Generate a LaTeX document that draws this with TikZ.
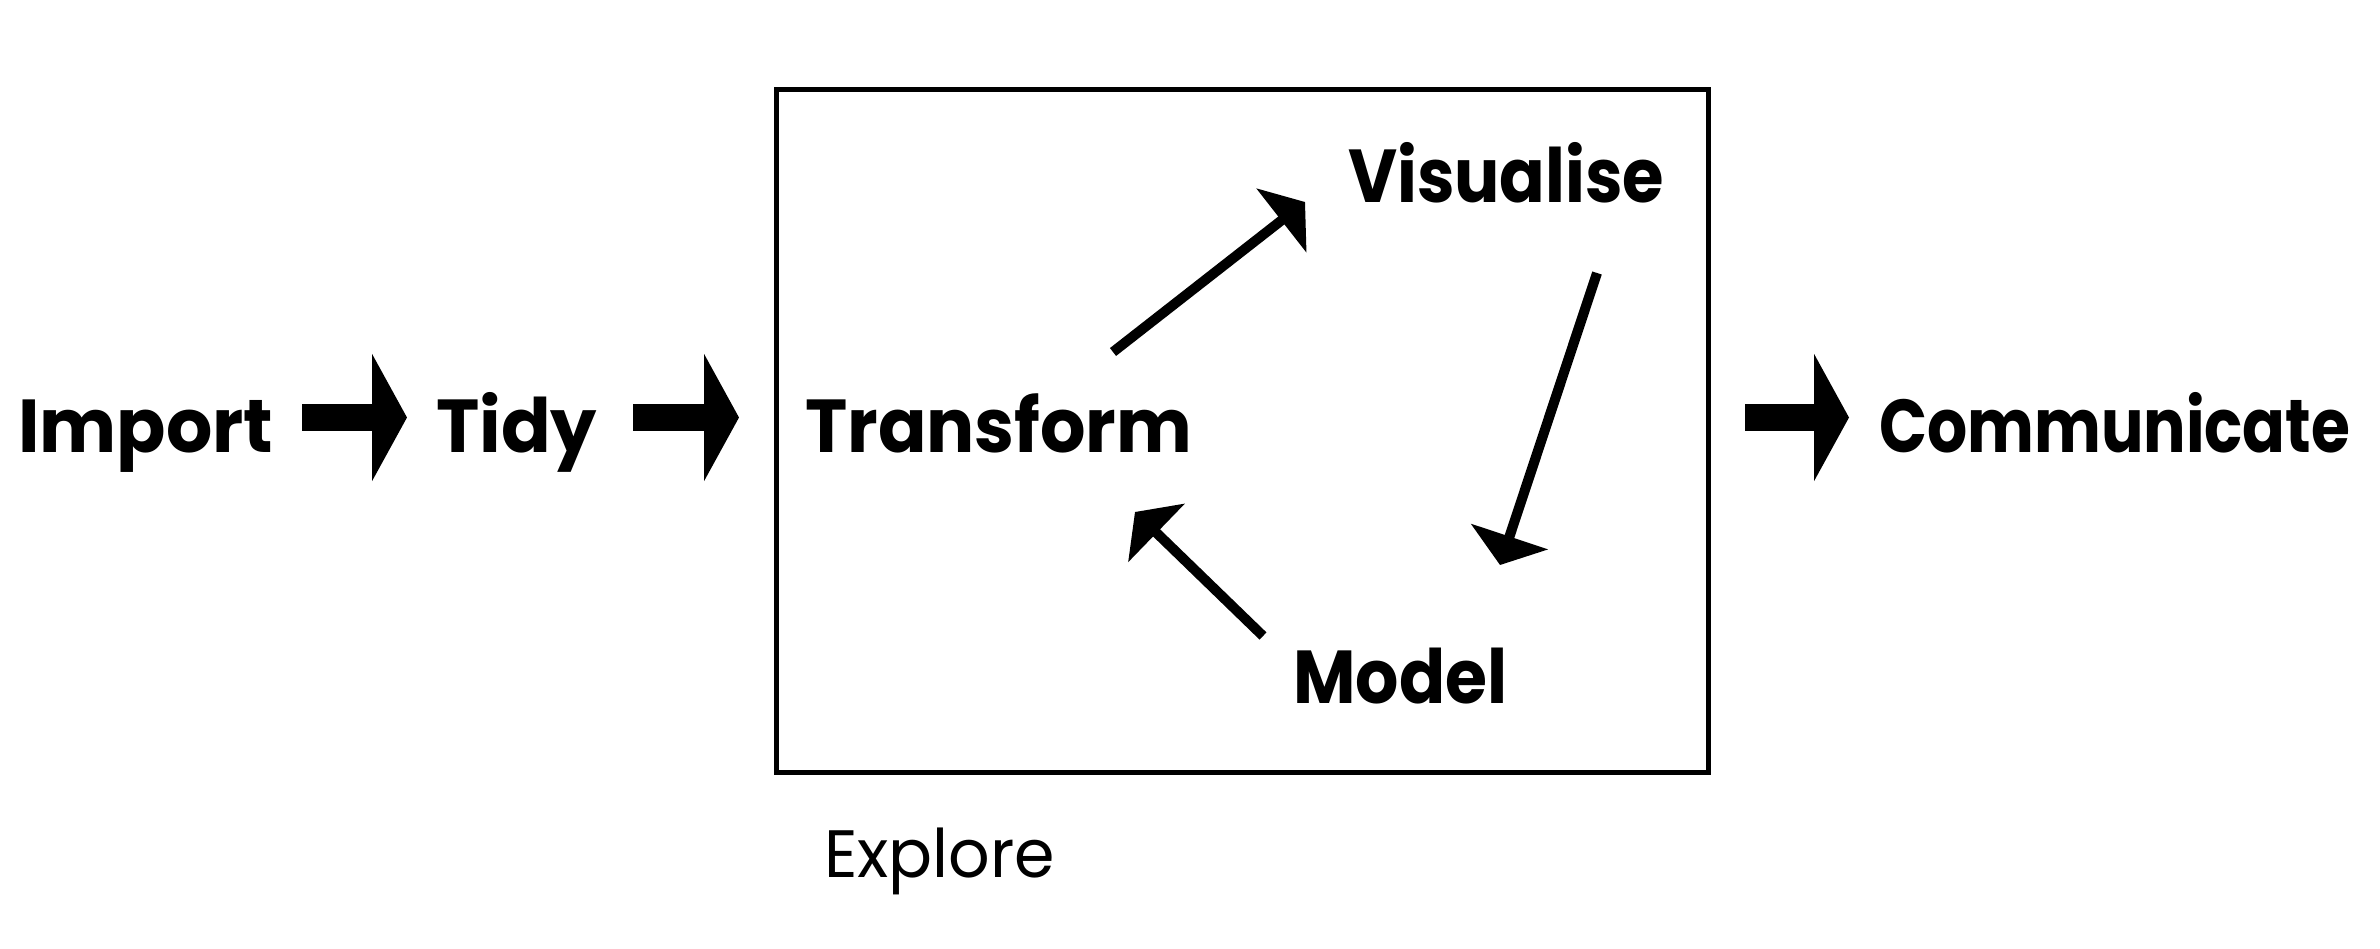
\documentclass[tikz,border=0pt]{standalone}
\usepackage{fontspec}
\usepackage{graphicx}
\setmainfont{Poppins}
\usetikzlibrary{arrows.meta}
\newcommand{\fitw}[2]{\resizebox{#1}{\height}{#2}}
\begin{document}
\begin{tikzpicture}[x=1pt,y=-1pt,
  lbl/.style={inner sep=0pt, anchor=base west, font=\fontsize{75}{90}\selectfont\bfseries},
  sublbl/.style={inner sep=0pt, anchor=base west, font=\fontsize{67}{80}\selectfont},
  flow/.style={line width=27pt, -{Triangle[length=35pt,width=126pt]}},
  cyc/.style={line width=10pt, -{Triangle[length=30pt,width=80pt]}},
  framebox/.style={draw, line width=5pt, inner sep=0pt, anchor=north west,
    minimum width=932pt, minimum height=683pt},
]
\useasboundingbox (0,0) rectangle (2380,948);
\node[lbl] (import) at (18,452) {\fitw{255pt}{Import}};
\node[lbl] (tidy) at (436,452) {\fitw{161pt}{Tidy}};
\node[framebox] (explore) at (774,87) {};
\node[lbl] (transform) at (805,452) {\fitw{387pt}{Transform}};
\node[lbl] (visualise) at (1348,202) {\fitw{316pt}{Visualise}};
\node[lbl] (model) at (1293,703) {\fitw{214pt}{Model}};
\node[lbl] (communicate) at (1879,452) {\fitw{471pt}{Communicate}};
\node[sublbl] (explorelbl) at (824,877) {\fitw{231pt}{Explore}};
% flow arrows
\draw[flow] ([shift={(29,-34.5)}]import.base east) -- ([shift={(-29,-34.5)}]tidy.base west);
\coordinate (t1) at ([shift={(36,-34.5)}]tidy.base east);
\draw[flow] (t1) -- ([xshift=-35pt]t1 -| explore.west);
\coordinate (c1) at ([shift={(-30,-34.5)}]communicate.base west);
\draw[flow] ([xshift=34pt]c1 -| explore.east) -- (c1);
% cycle arrows
\draw[cyc] ([shift={(308,-100)}]transform.base west) -- ([shift={(-43,0)}]visualise.base west);
\draw[cyc] ([shift={(249,71)}]visualise.base west) -- ([shift={(207,-138)}]model.base west);
\draw[cyc] ([shift={(-30,-67)}]model.base west) -- ([shift={(330,60)}]transform.base west);
\end{tikzpicture}
\end{document}
